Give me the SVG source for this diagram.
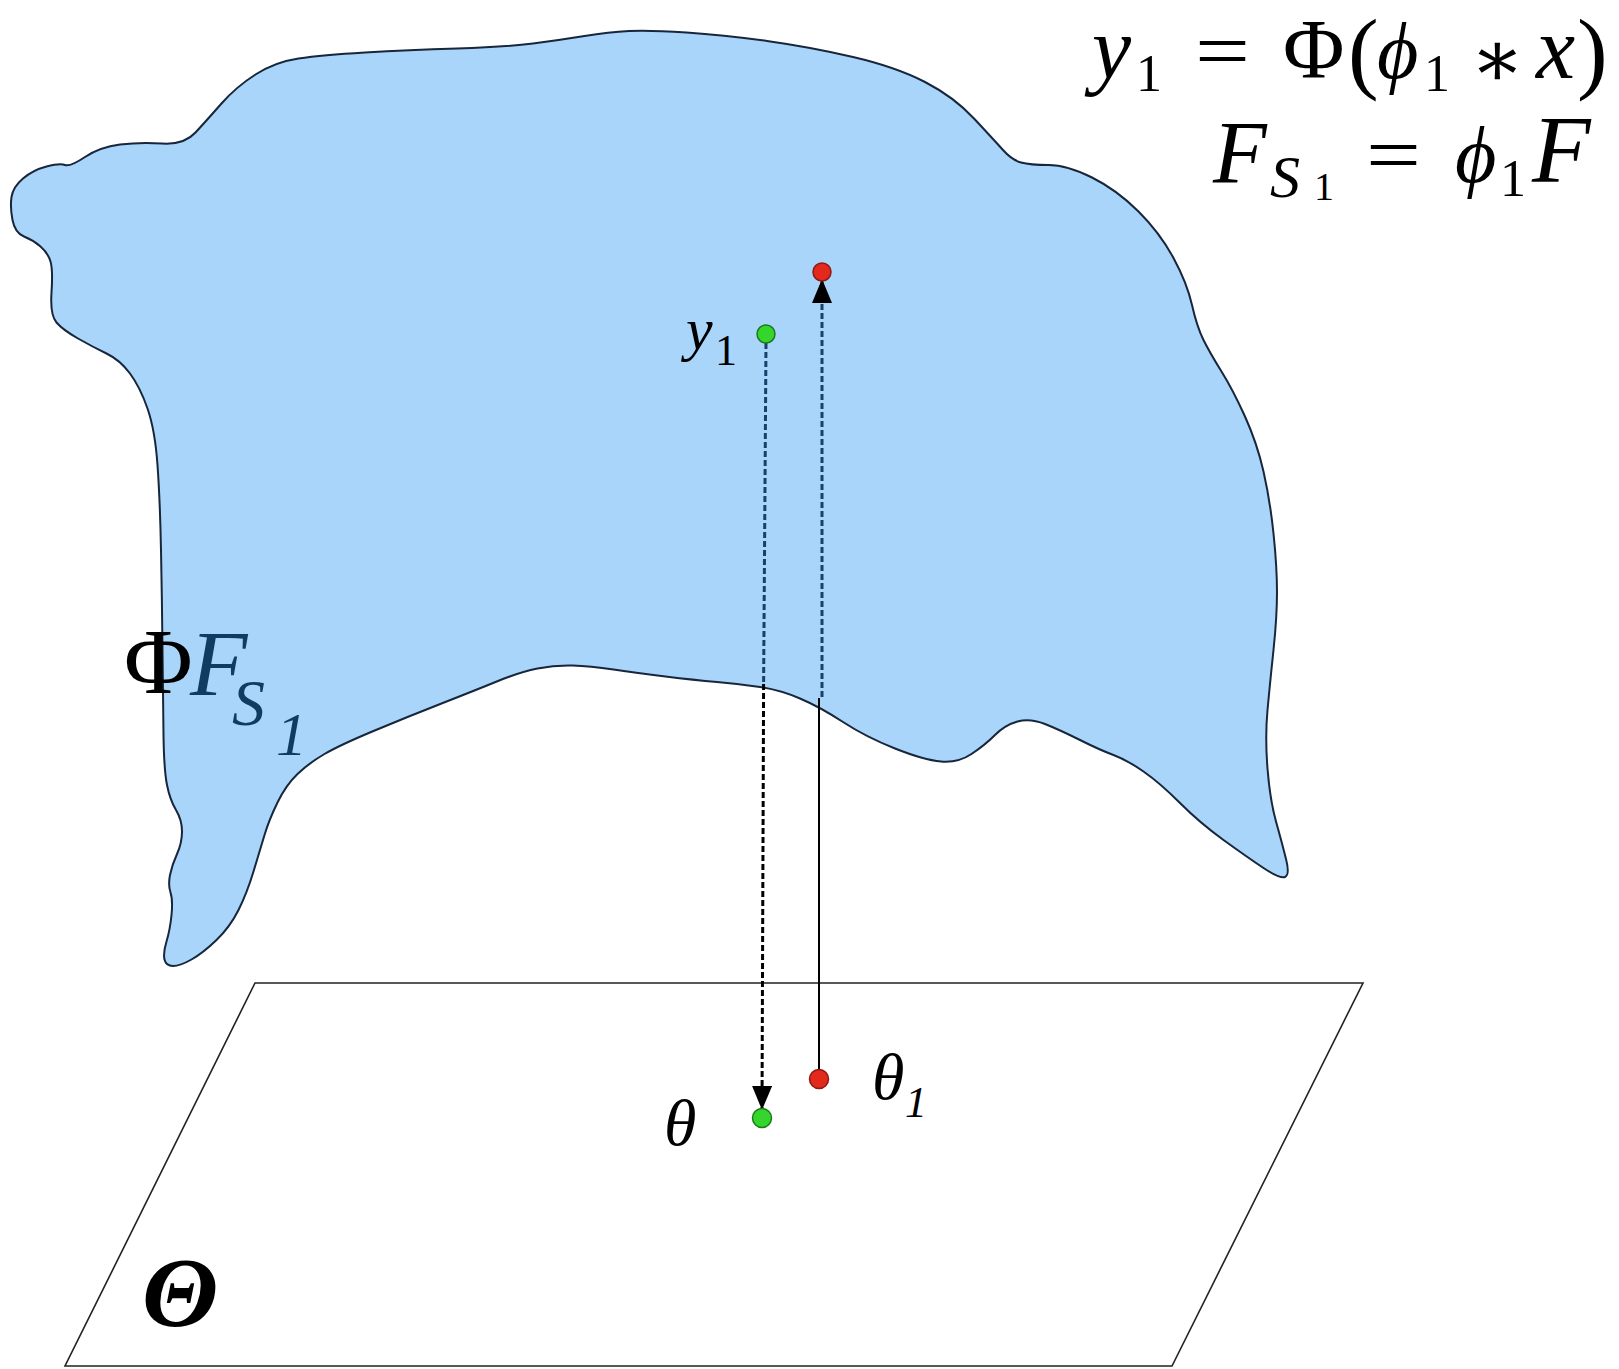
<svg xmlns="http://www.w3.org/2000/svg" width="1619" height="1369" viewBox="0 0 1619 1369">
<style>
.t{font-family:"Liberation Serif","DejaVu Serif",serif;fill:#000}
.i{font-style:italic}
.dash{fill:none;stroke-width:3;stroke-dasharray:6 3}
.solid{fill:none;stroke:#000;stroke-width:2}
.red{fill:#e3281c;stroke:#8c1a12;stroke-width:1.5}
.green{fill:#34d62e;stroke:#1c7a1a;stroke-width:1.5}
</style>
<defs>
<marker id="arrow" viewBox="0 0 24 20" refX="24" refY="10" markerWidth="24" markerHeight="20" markerUnits="userSpaceOnUse" orient="auto">
<path d="M0,0 L24,10 L0,20 Z" fill="#000"/>
</marker>
</defs>
<rect width="1619" height="1369" fill="#fff"/>

<g id="plane">
<path d="M255,983 L1363,983 L1172,1366 L65,1366 Z" fill="none" stroke="#222" stroke-width="1.6"/>
<text class="t i" x="142" y="1326" font-size="100" font-weight="bold">Θ</text>
</g>

<g id="blob">
<text class="t i" x="190" y="695" font-size="94">F</text>
<text class="t i" x="232" y="725" font-size="66">S</text>
<text class="t i" x="276" y="755" font-size="62">1</text>
<path d="M12.5,220 Q10,207 11.5,197 Q13,187 23,178.5 Q33,170 46.5,166.5 Q60,163 65,165 Q70,167 85,157 Q100,147 120,144.5 Q140,142 162,143.5 Q184,145 195.5,132.5 Q207,120 221.5,103.5 Q236,87 255.5,74.5 Q275,62 298.5,58.5 Q322,55 365,52.5 Q408,50 457,48.5 Q506,47 533,43.5 Q560,40 584.5,36 Q609,32 629,31 Q649,30 686.5,32.5 Q724,35 767,41 Q810,47 853,57 Q896,67 925,82 Q954,97 974,118.5 Q994,140 1003,150 Q1012,160 1021,162.5 Q1030,165 1048.5,165 Q1067,165 1092,177.5 Q1117,190 1138.5,211.5 Q1160,233 1173.5,258 Q1187,283 1192,305 Q1197,327 1203.5,340 Q1210,353 1221.5,371.5 Q1233,390 1245,416.5 Q1257,443 1263.5,471.5 Q1270,500 1273.5,533.5 Q1277,567 1277,592 Q1277,617 1273.5,650 Q1270,683 1267.5,710 Q1265,737 1267.5,768.5 Q1270,800 1276,821.5 Q1282,843 1286,859 Q1290,875 1285,877 Q1280,879 1263.5,868 Q1247,857 1223.5,840 Q1200,823 1180,803 Q1160,783 1143.5,771.5 Q1127,760 1113.5,755 Q1100,750 1080,740 Q1060,730 1045,724 Q1030,718 1017.5,721.5 Q1005,725 995,735 Q985,745 971.5,754 Q958,763 941,761.5 Q924,760 895,748.5 Q866,737 843,722 Q820,707 800,698.5 Q780,690 760,687 Q740,684 717,682 Q694,680 665.5,676.5 Q637,673 613.5,669.5 Q590,666 572.5,665.5 Q555,665 537.5,668.5 Q520,672 498,681 Q476,690 441.5,703.5 Q407,717 373.5,731 Q340,745 324.5,754 Q309,763 297.5,774 Q286,785 277.5,802.5 Q269,820 264.5,835 Q260,850 253.5,871.5 Q247,893 238.5,910 Q230,927 216.5,940 Q203,953 191.5,959.5 Q180,966 173,966 Q166,966 164.5,959.5 Q163,953 166.5,941.5 Q170,930 171.5,915 Q173,900 170.5,892.5 Q168,885 170,875 Q172,865 177,854 Q182,843 182,831.5 Q182,820 176,810 Q170,800 167,785 Q164,770 163.5,735 Q163,700 162.5,650 Q162,600 161,550 Q160,500 157.5,465 Q155,430 147.5,408.5 Q140,387 130,373.5 Q120,360 106.5,353.5 Q93,347 78,338.5 Q63,330 56.5,322.5 Q50,315 51.5,292.5 Q53,270 50.5,261.5 Q48,253 40.5,246.5 Q33,240 24,236.5 Q15,233 12.5,220 Z" fill="rgb(40,150,245)" fill-opacity="0.4" stroke="#17263a" stroke-width="2"/>
<text class="t" x="124" y="693" font-size="94">Φ</text>
</g>

<g id="connectors">
<path class="dash" stroke="#17406a" d="M766,343 L763.6,684"/>
<path class="dash" stroke="#000" d="M763.6,684 L762,1110" marker-end="url(#arrow)"/>
<path class="solid" d="M819,1070 L819,698"/>
<path class="dash" stroke="#17406a" d="M822,697 L822,279" marker-end="url(#arrow)"/>
</g>

<g id="point-y1">
<circle class="green" cx="766" cy="334" r="9"/>
<text class="t i" x="686" y="349" font-size="60">y</text>
<text class="t" x="715" y="365" font-size="44">1</text>
</g>
<g id="point-top">
<circle class="red" cx="822" cy="272" r="9"/>
</g>
<g id="point-theta1">
<circle class="red" cx="819" cy="1079" r="9.5"/>
<text class="t i" x="872" y="1099" font-size="66">θ</text>
<text class="t i" x="905" y="1117" font-size="44">1</text>
</g>
<g id="point-theta">
<circle class="green" cx="762" cy="1118" r="9.5"/>
<text class="t i" x="664" y="1145" font-size="66">θ</text>
</g>

<g id="formula">
<text class="t i" x="1092" y="78" font-size="88">y</text>
<text class="t" x="1136" y="91" font-size="52">1</text>
<text class="t" x="1195" y="78" font-size="80" textLength="55" lengthAdjust="spacingAndGlyphs">=</text>
<text class="t" x="1283" y="78" font-size="84">Φ</text>
<text class="t" x="1348" y="82" font-size="92">(</text>
<text class="t i" x="1377" y="78" font-size="80">ϕ</text>
<text class="t" x="1424" y="91" font-size="52">1</text>
<text class="t" x="1470" y="86" font-size="80">∗</text>
<text class="t i" x="1536" y="78" font-size="88">x</text>
<text class="t" x="1577" y="82" font-size="92">)</text>

<text class="t i" x="1213" y="182" font-size="88">F</text>
<text class="t i" x="1270" y="197" font-size="60">S</text>
<text class="t" x="1314" y="200" font-size="40">1</text>
<text class="t" x="1366" y="182" font-size="80" textLength="55" lengthAdjust="spacingAndGlyphs">=</text>
<text class="t i" x="1455" y="182" font-size="80">ϕ</text>
<text class="t" x="1500" y="196" font-size="52">1</text>
<text class="t i" x="1532" y="182" font-size="96">F</text>
</g>
</svg>
